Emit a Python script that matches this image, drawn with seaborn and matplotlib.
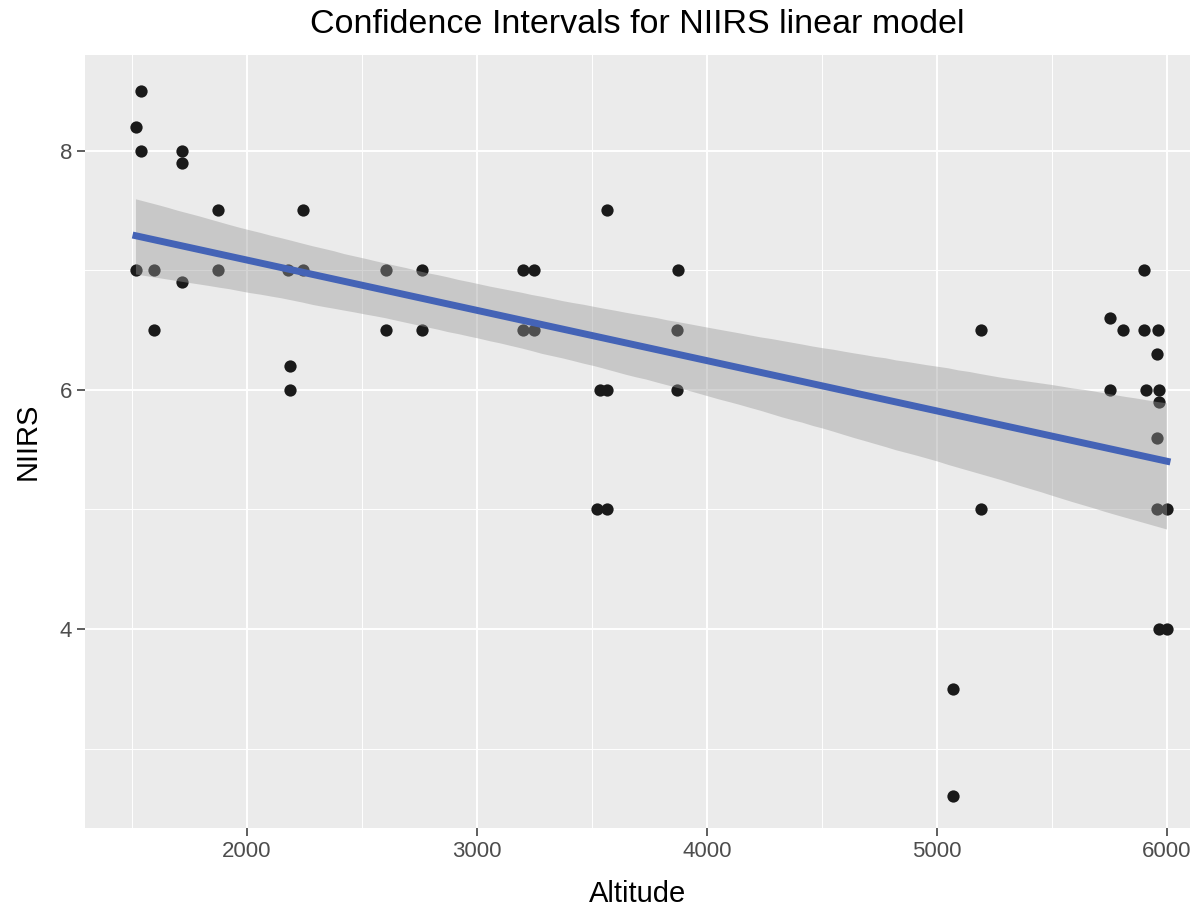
import matplotlib
matplotlib.use("Agg")
import matplotlib.pyplot as plt
import seaborn as sns
import numpy as np
import pandas as pd
from matplotlib.ticker import MultipleLocator
from matplotlib.collections import PolyCollection

altitude = [1517, 1539, 1539, 1517, 1596, 1596, 1717, 1717, 1717, 1874, 1874,
            2178, 2187, 2187, 2243, 2243, 2604, 2604, 2761, 2761,
            3200, 3248, 3200, 3248, 3522, 3565, 3535, 3565, 3565,
            3874, 3870, 3870, 5070, 5070, 5191, 5191,
            5752, 5752, 5809, 5900, 5900, 5909, 5961, 5965, 5957, 5965,
            5957, 5957, 6000, 5965, 6000]
niirs = [8.2, 8.5, 8.0, 7.0, 7.0, 6.5, 8.0, 7.9, 6.9, 7.5, 7.0,
         7.0, 6.2, 6.0, 7.5, 7.0, 7.0, 6.5, 7.0, 6.5,
         7.0, 7.0, 6.5, 6.5, 5.0, 5.0, 6.0, 6.0, 7.5,
         7.0, 6.5, 6.0, 3.5, 2.6, 6.5, 5.0,
         6.6, 6.0, 6.5, 7.0, 6.5, 6.0, 6.5, 6.0, 6.3, 5.9,
         5.6, 5.0, 5.0, 4.0, 4.0]
df = pd.DataFrame({"Altitude": altitude, "NIIRS": niirs})

x_ticks = [2000, 3000, 4000, 5000, 6000]
y_ticks = [4, 6, 8]

fig = plt.figure(figsize=(11.99, 9.08), dpi=100)
ax = fig.add_axes([0.071, 0.088, 0.9215, 0.8514])
ax.set_facecolor("#EBEBEB")
for s in ax.spines.values():
    s.set_visible(False)

sns.scatterplot(data=df, x="Altitude", y="NIIRS", ax=ax, color="#1A1A1A",
                s=78, linewidth=0, zorder=2)
sns.regplot(data=df, x="Altitude", y="NIIRS", ax=ax, scatter=False, ci=95,
            seed=3, n_boot=2000,
            color="#4463B6", line_kws={"lw": 5, "zorder": 4})
for c in ax.collections:
    if isinstance(c, PolyCollection):
        c.set_facecolor("#999999")
        c.set_alpha(0.42)
        c.set_edgecolor("none")
        c.set_zorder(3)

ax.set_xlim(1296, 6100)
ax.set_ylim(2.335, 8.80)
ax.set_xticks(x_ticks)
ax.set_yticks(y_ticks)
ax.xaxis.set_minor_locator(MultipleLocator(500))
ax.yaxis.set_minor_locator(MultipleLocator(1))
ax.grid(which="major", color="white", lw=1.4, zorder=0)
ax.grid(which="minor", color="white", lw=0.7, zorder=0)
ax.set_axisbelow(True)
ax.tick_params(which="major", length=5.5, width=1.1, color="#333333",
               labelcolor="#4D4D4D", labelsize=16, pad=4)
ax.tick_params(which="minor", length=0)

fam = ["Liberation Sans", "DejaVu Sans"]
for lab in ax.get_xticklabels() + ax.get_yticklabels():
    lab.set_family(fam)
ax.set_xlabel("Altitude", fontsize=21, family=fam, color="black", labelpad=13)
ax.set_ylabel("NIIRS", fontsize=21, family=fam, color="black", labelpad=13)
ax.set_title("Confidence Intervals for NIIRS linear model", fontsize=24.5,
             family=fam, color="black", pad=16)

fig.savefig("out.png", dpi=100)
